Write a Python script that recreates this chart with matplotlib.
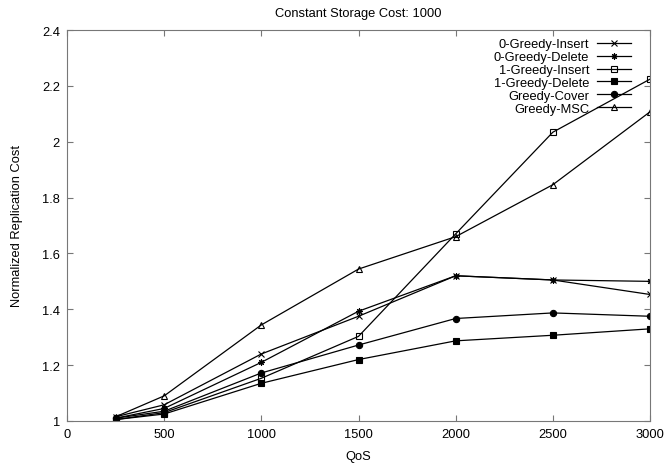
import matplotlib
matplotlib.use('Agg')
import matplotlib.pyplot as plt
from matplotlib.ticker import FormatStrFormatter

plt.rcParams['font.family'] = ['Liberation Sans', 'DejaVu Sans']
plt.rcParams['font.size'] = 9.3

qos = [250, 500, 1000, 1500, 2000, 2500, 3000]

greedy0_insert = [1.015, 1.058, 1.240, 1.375, 1.520, 1.505, 1.453]
greedy0_delete = [1.010, 1.045, 1.210, 1.393, 1.520, 1.505, 1.500]
greedy1_insert = [1.005, 1.030, 1.153, 1.303, 1.670, 2.034, 2.224]
greedy1_delete = [1.005, 1.025, 1.135, 1.220, 1.287, 1.307, 1.330]
greedy_cover = [1.010, 1.035, 1.172, 1.272, 1.367, 1.387, 1.375]
greedy_msc = [1.015, 1.090, 1.344, 1.544, 1.660, 1.846, 2.107]

series = [
    ('0-Greedy-Insert', greedy0_insert, 'x', 'k'),
    ('0-Greedy-Delete', greedy0_delete, (8, 2, 0), 'k'),
    ('1-Greedy-Insert', greedy1_insert, 's', 'none'),
    ('1-Greedy-Delete', greedy1_delete, 's', 'k'),
    ('Greedy-Cover', greedy_cover, 'o', 'k'),
    ('Greedy-MSC', greedy_msc, '^', 'none'),
]

fig = plt.figure(figsize=(6.65, 4.64), dpi=100)
ax = fig.add_axes([67 / 665, 1 - 422 / 464, 583 / 665, 391 / 464])

for label, vals, mk, fc in series:
    ax.plot(qos, vals, color='k', lw=0.9, marker=mk, markersize=4.5,
            markerfacecolor=fc, markeredgecolor='k', markeredgewidth=0.8,
            label=label)

ax.set_xlim(0, 3000)
ax.set_ylim(1, 2.4)
ax.set_xticks([0, 500, 1000, 1500, 2000, 2500, 3000])
ax.set_yticks([1, 1.2, 1.4, 1.6, 1.8, 2, 2.2, 2.4])
ax.yaxis.set_major_formatter(FormatStrFormatter('%g'))
ax.tick_params(direction='in', top=True, right=True, length=4,
               color='#777777', pad=5)
for s in ax.spines.values():
    s.set_color('#777777')

ax.set_title('Constant Storage Cost: 1000', fontsize=9.3, pad=10)
ax.set_xlabel('QoS', labelpad=7)
ax.set_ylabel('Normalized Replication Cost', labelpad=14)

leg = ax.legend(loc='upper right', bbox_to_anchor=(1.0, 1.028),
                markerfirst=False, frameon=False,
                labelspacing=0.06, handlelength=2.6, handletextpad=0.6,
                borderaxespad=1.1, fontsize=9.3)

fig.savefig('out.png', dpi=100)
